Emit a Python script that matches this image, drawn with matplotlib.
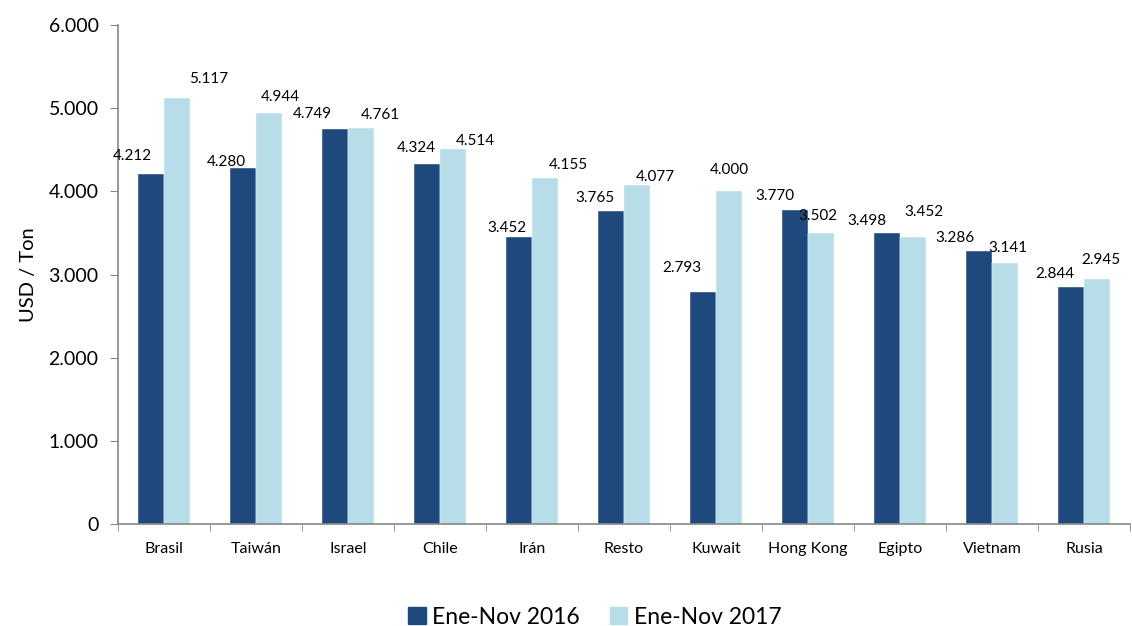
import matplotlib
matplotlib.use("Agg")
import matplotlib.pyplot as plt
import numpy as np
from matplotlib.ticker import FuncFormatter
from matplotlib.patches import Patch

plt.rcParams['font.family'] = ['Lato', 'DejaVu Sans']

categories = ["Brasil", "Taiwán", "Israel", "Chile", "Irán", "Resto", "Kuwait",
              "Hong Kong", "Egipto", "Vietnam", "Rusia"]
values_2016 = [4212, 4280, 4749, 4324, 3452, 3765, 2793, 3770, 3498, 3286, 2844]
values_2017 = [5117, 4944, 4761, 4514, 4155, 4077, 4000, 3502, 3452, 3141, 2945]
series_names = ["Ene-Nov 2016", "Ene-Nov 2017"]

# label nudges (pixels) relative to bar top centre, as placed in the original
dx_2016 = [-18, -16, -22, -10, -12, -16, -21, -20, -20, -24, -16]
dy_2016 = [18, 6, 15, 16, 9, 13, 24, 14, 12, 13, 13]
dx_2017 = [31, 11, 19, 22, 23, 18, 0, -3, 11, 3, 4]
dy_2017 = [19, 16, 13, 8, 13, 8, 21, 17, 25, 15, 19]

c_dark = "#1F497D"
c_light = "#B7DEE8"

def fmt(v):
    return f"{v:,.0f}".replace(",", ".")

fig = plt.figure(figsize=(11.32, 6.26), dpi=100)
ax = fig.add_axes([118/1132, 102/626, (1130-118)/1132, (524-25)/626])

x = np.arange(len(categories))
w = 0.287
ax.bar(x - w/2, values_2016, w, color=c_dark, edgecolor="white", linewidth=0.3)
ax.bar(x + w/2, values_2017, w, color=c_light, edgecolor="white", linewidth=0.3)

for i, v in enumerate(values_2016):
    ax.annotate(fmt(v), (x[i] - w/2, v), xytext=(dx_2016[i], dy_2016[i]), textcoords="offset pixels",
                ha="center", va="center", fontsize=11, color="black")
for i, v in enumerate(values_2017):
    ax.annotate(fmt(v), (x[i] + w/2, v), xytext=(dx_2017[i], dy_2017[i]), textcoords="offset pixels",
                ha="center", va="center", fontsize=11, color="black", annotation_clip=False)

ax.set_xlim(-0.5, len(categories) - 0.5)
ax.set_ylim(0, 6000)
ax.set_yticks(np.arange(0, 6001, 1000))
ax.yaxis.set_major_formatter(FuncFormatter(lambda v, p: fmt(v)))
ax.set_xticks(x)
ax.set_xticklabels(categories, fontsize=11.5)
ax.set_xticks(np.arange(-0.5, len(categories), 1), minor=True)
ax.tick_params(axis="x", which="major", length=0, pad=13)
ax.tick_params(axis="x", which="minor", length=5, color="#868686", direction="out")
ax.tick_params(axis="y", labelsize=14, length=6, color="#868686", pad=8)

for s in ["top", "right"]:
    ax.spines[s].set_visible(False)
for s in ["left", "bottom"]:
    ax.spines[s].set_color("#868686")
    ax.spines[s].set_linewidth(1.2)

ax.set_ylabel("USD / Ton", fontsize=14.5, labelpad=8)

handles = [Patch(color=c_dark), Patch(color=c_light)]
fig.legend(handles, series_names, loc="center", bbox_to_anchor=(595/1132, 1 - 617/626),
           ncol=2, frameon=False, fontsize=16.5, handlelength=0.75, handleheight=0.75,
           handletextpad=0.3, columnspacing=1.3)

fig.savefig("out.png", dpi=100)
